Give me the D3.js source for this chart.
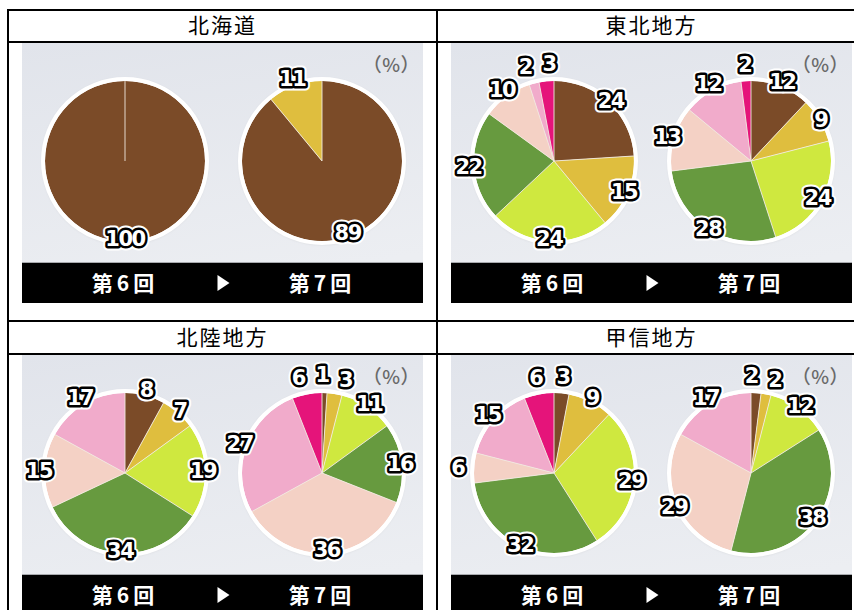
<!DOCTYPE html>
<html>
<head>
<meta charset="utf-8">
<script src="https://d3js.org/d3.v7.min.js"></script>
<style>
body { margin: 0; background: #fff; }
</style>
</head>
<body>
<script>
// regions and rounds
const regions = ["北海道", "東北地方", "北陸地方", "甲信地方"];
const rounds = ["第6回", "第7回"];
// seven colour-coded groups (names are not shown in the picture)
const groups = ["g1", "g2", "g3", "g4", "g5", "g6", "g7"];
// shares in % per group, [第6回, 第7回]
const hokkaido = [[100, 0, 0, 0, 0, 0, 0], [89, 11, 0, 0, 0, 0, 0]];
const tohoku = [[24, 15, 24, 22, 10, 2, 3], [12, 9, 24, 28, 13, 12, 2]];
const hokuriku = [[8, 7, 19, 34, 15, 17, 0], [1, 3, 11, 16, 36, 27, 6]];
const koshin = [[3, 9, 29, 32, 6, 15, 6], [2, 2, 12, 38, 29, 17, 0]];
const shares = [hokkaido, tohoku, hokuriku, koshin];

const width = 854, height = 610;
const colX = [8, 437, 866];
const rowY = [10, 42, 321, 354, 633];
const panelW = 401, panelH = 260, barH = 40;
const radius = 80;

var colour = d3.scaleOrdinal()
  .domain(groups)
  .range(["#7b4b28", "#dfbe3e", "#cfe83f", "#679a3f", "#f4d1c5", "#f1abcb", "#e5147a"]);

var svg = d3.select("body").append("svg")
  .attr("width", width)
  .attr("height", height)
  .style("display", "block");

var defs = svg.append("defs");
var grad = defs.append("linearGradient").attr("id", "bg").attr("x1", 0).attr("y1", 0).attr("x2", 0.25).attr("y2", 1);
grad.append("stop").attr("offset", "0%").attr("stop-color", "#e1e4eb");
grad.append("stop").attr("offset", "100%").attr("stop-color", "#eceef2");
var shadow = defs.append("filter").attr("id", "sh").attr("x", "-20%").attr("y", "-20%").attr("width", "140%").attr("height", "140%");
shadow.append("feDropShadow").attr("dx", 0).attr("dy", 0.5).attr("stdDeviation", 1.5)
  .attr("flood-color", "#000").attr("flood-opacity", 0.25);

// pie centres inside each panel
var cx = d3.scalePoint().domain(rounds).range([103, 300]);
const cy = 118;

var pie = d3.pie().sort(null).value(d => d.v);
var arc = d3.arc().innerRadius(0).outerRadius(radius);

function labelText(sel, halo) {
  sel.attr("text-anchor", "middle")
    .attr("dy", "0.36em")
    .attr("font-family", "'DejaVu Sans', sans-serif")
    .attr("font-weight", 700)
    .attr("font-size", 21)
    .attr("letter-spacing", -1.5)
    .attr("fill", "#fff")
    .attr("stroke", halo ? "#fff" : "#000")
    .attr("stroke-width", halo ? 9 : 5)
    .attr("stroke-linejoin", "round")
    .attr("paint-order", "stroke")
    .text(d => d.data.v);
}

// label position: a bit outside the slice middle, then pushed apart if crowded
function placeLabels(slices) {
  slices.forEach(function (d) {
    var a = (d.startAngle + d.endAngle) / 2;
    var rr = 82 + 5 * Math.cos(a) - 4 * Math.sin(a) + (d.data.v <= 6 ? 10 : 0);
    d.lx = rr * Math.sin(a);
    d.ly = -rr * Math.cos(a);
  });
  for (var it = 0; it < 30; it++) {
    for (var i = 0; i < slices.length; i++) {
      for (var j = i + 1; j < slices.length; j++) {
        var a = slices[i], b = slices[j];
        var dx = b.lx - a.lx, dy = b.ly - a.ly;
        var dist = Math.sqrt(dx * dx + dy * dy) || 1;
        var need = 24;
        if (dist < need) {
          var s = (need - dist) / 2 / dist;
          a.lx -= dx * s; a.ly -= dy * s;
          b.lx += dx * s; b.ly += dy * s;
        }
      }
    }
  }
}

regions.forEach(function (name, k) {
  var col = k % 2, row = Math.floor(k / 2);
  var left = colX[col];
  var cellW = colX[col + 1] - colX[col];

  // header text
  svg.append("text")
    .attr("x", left + cellW / 2)
    .attr("y", (rowY[row * 2] + rowY[row * 2 + 1]) / 2 + 7)
    .attr("text-anchor", "middle")
    .attr("font-family", "'Noto Sans CJK JP', sans-serif")
    .attr("font-size", 21)
    .attr("letter-spacing", 2)
    .text(name);

  var g = svg.append("g")
    .attr("transform", "translate(" + (left + 14) + "," + (rowY[row * 2 + 1] + 1) + ")");

  g.append("rect").attr("width", panelW).attr("height", panelH).attr("fill", "url(#bg)");
  g.append("rect").attr("y", panelH - barH).attr("width", panelW).attr("height", barH).attr("fill", "#000");
  g.append("rect").attr("y", panelH - barH - 1).attr("width", panelW).attr("height", 1).attr("fill", "#a8aaae");

  g.append("text")
    .attr("x", panelW - 3)
    .attr("y", 29)
    .attr("text-anchor", "end")
    .attr("font-family", "'Noto Sans CJK JP', sans-serif")
    .attr("font-weight", 500)
    .attr("font-size", 19)
    .attr("letter-spacing", 0.5)
    .attr("fill", "#6a6a6a")
    .text("（%）");

  // bottom bar labels
  rounds.forEach(function (r) {
    g.append("text")
      .attr("x", cx(r))
      .attr("y", panelH - barH / 2 + 8)
      .attr("text-anchor", "middle")
      .attr("font-family", "'Noto Sans CJK JP', sans-serif")
      .attr("font-weight", 700)
      .attr("font-size", 21)
      .attr("letter-spacing", 4)
      .attr("fill", "#fff")
      .text(r);
  });
  var mx = (cx(rounds[0]) + cx(rounds[1])) / 2, my = panelH - barH / 2;
  g.append("path")
    .attr("d", "M" + (mx - 6) + "," + (my - 8) + "L" + (mx + 6) + "," + my + "L" + (mx - 6) + "," + (my + 8) + "Z")
    .attr("fill", "#fff");

  rounds.forEach(function (r, j) {
    var vals = groups.map((gr, i) => ({ g: gr, v: shares[k][j][i] }));
    var slices = pie(vals).filter(d => d.data.v > 0);
    placeLabels(slices);
    var p = g.append("g").attr("transform", "translate(" + cx(r) + "," + cy + ")");

    p.append("circle").attr("r", radius + 2).attr("fill", "#fff").attr("filter", "url(#sh)");
    p.selectAll("path.slice")
      .data(slices)
      .enter().append("path")
      .attr("class", "slice")
      .attr("d", arc)
      .attr("fill", d => colour(d.data.g));
    // thin separators at slice starts
    p.selectAll("line.sep")
      .data(slices)
      .enter().append("line")
      .attr("x2", d => radius * Math.sin(d.startAngle))
      .attr("y2", d => -radius * Math.cos(d.startAngle))
      .attr("stroke", "#f1e9df")
      .attr("stroke-width", 0.9);
    p.append("circle").attr("r", radius + 2).attr("fill", "none")
      .attr("stroke", "#fff").attr("stroke-width", 4);

    var lab = p.selectAll("g.lab")
      .data(slices)
      .enter().append("g")
      .attr("class", "lab")
      .attr("transform", d => "translate(" + d.lx + "," + d.ly + ")");
    lab.append("text").call(labelText, true);
    lab.append("text").call(labelText, false);
  });
});

// table grid
colX.forEach(function (x) {
  svg.append("line").attr("x1", x).attr("x2", x).attr("y1", rowY[0] - 1).attr("y2", height)
    .attr("stroke", "#000").attr("stroke-width", 2);
});
rowY.forEach(function (y) {
  svg.append("line").attr("x1", colX[0] - 1).attr("x2", width).attr("y1", y).attr("y2", y)
    .attr("stroke", "#000").attr("stroke-width", 2);
});
</script>
</body>
</html>
